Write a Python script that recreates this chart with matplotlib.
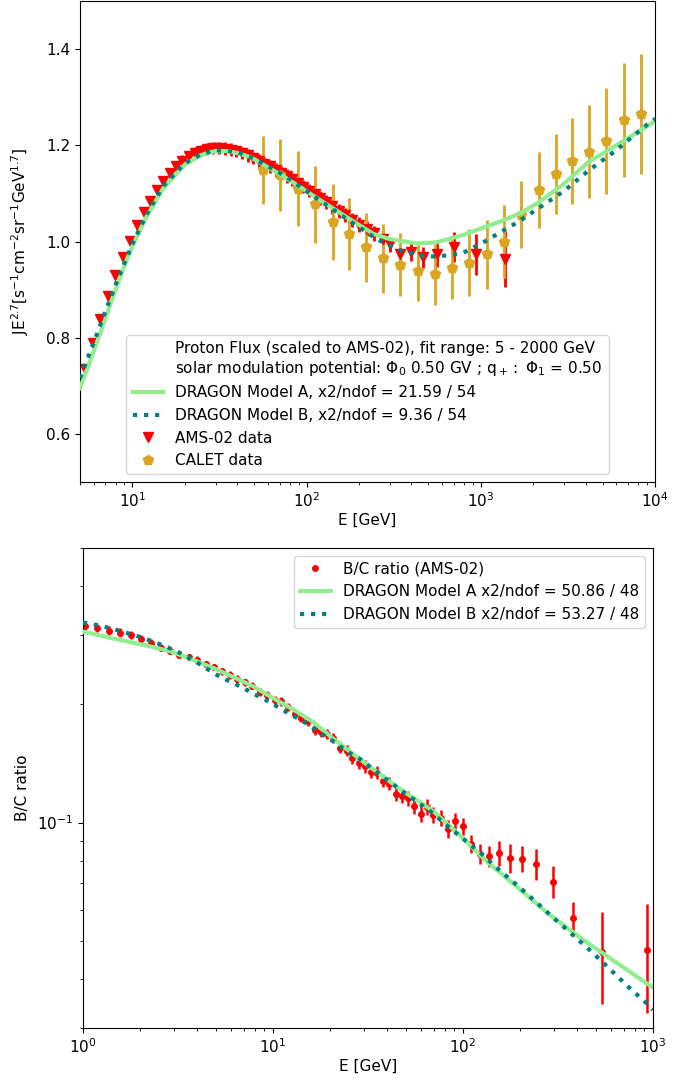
import matplotlib
matplotlib.use("Agg")
import matplotlib.pyplot as plt
from matplotlib.lines import Line2D
from matplotlib.ticker import NullFormatter

plt.rcParams['font.size'] = 11

# ---------------- Top panel data: proton flux x E^2.7 ----------------
ams_E = [5.31, 5.91, 6.55, 7.23, 7.98, 8.79, 9.65, 10.60, 11.60, 12.64, 13.79, 15.04,
         16.39, 17.83, 19.38, 21.03, 22.83, 24.78, 26.83, 29.03, 31.38, 33.87, 36.57,
         39.47, 42.57, 45.87, 49.42, 53.22, 57.27, 61.62, 66.32, 71.37, 76.77, 82.57,
         88.8, 95.6, 103.1, 111.1, 119.6, 129.1, 140.1, 152.6, 166.6, 182.6, 200.6,
         221.1, 245.1, 274.1, 300.0, 345, 398, 467, 560, 700, 935, 1371]
ams_F = [0.735, 0.789, 0.838, 0.886, 0.930, 0.967, 1.002, 1.034, 1.062, 1.085, 1.107, 1.126,
         1.143, 1.157, 1.168, 1.177, 1.184, 1.189, 1.192, 1.194, 1.194, 1.193, 1.191,
         1.188, 1.184, 1.179, 1.174, 1.168, 1.162, 1.156, 1.149, 1.143, 1.136, 1.129,
         1.121, 1.114, 1.106, 1.098, 1.090, 1.082, 1.073, 1.064, 1.055, 1.045, 1.035,
         1.027, 1.017, 1.006, 0.994, 0.973, 0.979, 0.967, 0.973, 0.988, 0.973, 0.963]
ams_err = [0.006, 0.006, 0.006, 0.006, 0.006, 0.006, 0.006, 0.007, 0.007, 0.007, 0.008, 0.008,
           0.010, 0.010, 0.011, 0.011, 0.012, 0.012, 0.013, 0.013, 0.013, 0.013, 0.013,
           0.013, 0.013, 0.013, 0.013, 0.013, 0.013, 0.014, 0.014, 0.014, 0.014, 0.014,
           0.014, 0.014, 0.014, 0.014, 0.015, 0.015, 0.015, 0.015, 0.015, 0.015, 0.015,
           0.015, 0.016, 0.016, 0.016, 0.016, 0.019, 0.022, 0.027, 0.031, 0.042, 0.058]

calet_E = [56.1, 70.1, 88.8, 111.1, 140.8, 176.1, 220.3, 275.4, 344.4, 436.5, 545.8, 682.5,
           853.4, 1081, 1352, 1693, 2144, 2685, 3357, 4198, 5248, 6651, 8318]
calet_F = [1.149, 1.139, 1.110, 1.077, 1.041, 1.015, 0.988, 0.965, 0.952, 0.938, 0.932, 0.944,
           0.956, 0.973, 1.000, 1.056, 1.108, 1.141, 1.168, 1.187, 1.209, 1.253, 1.265]
calet_err = [0.070, 0.075, 0.078, 0.081, 0.079, 0.075, 0.072, 0.072, 0.065, 0.062, 0.063, 0.064,
             0.069, 0.072, 0.075, 0.070, 0.079, 0.083, 0.089, 0.097, 0.111, 0.119, 0.124]

modelA_E = [5, 5.5, 6, 7, 8, 9, 10, 12, 15, 20, 25, 30, 35, 40, 48, 55, 74, 116, 178, 241,
            300, 430, 550, 665, 800, 1000, 1300, 1670, 2120, 3000, 4140, 6000, 8000, 10000]
modelA_F = [0.695, 0.735, 0.772, 0.840, 0.900, 0.950, 0.990, 1.050, 1.110, 1.160, 1.180, 1.188,
            1.188, 1.184, 1.175, 1.162, 1.135, 1.089, 1.046, 1.016, 1.005, 0.996, 0.998, 1.006,
            1.014, 1.027, 1.042, 1.058, 1.080, 1.120, 1.165, 1.200, 1.228, 1.250]

modelB_E = [5, 5.5, 6, 7, 8, 9, 10, 12, 15, 20, 25, 30, 40, 50, 74, 116, 178, 255, 349, 479,
            568, 778, 1054, 1408, 1607, 2120, 3000, 4140, 6000, 9000, 10000]
modelB_F = [0.716, 0.755, 0.790, 0.855, 0.910, 0.955, 0.995, 1.055, 1.115, 1.163, 1.182, 1.190,
            1.186, 1.172, 1.138, 1.088, 1.042, 1.004, 0.981, 0.969, 0.969, 0.975, 1.000, 1.027,
            1.039, 1.068, 1.105, 1.147, 1.190, 1.243, 1.255]

# ---------------- Bottom panel data: B/C ratio ----------------
bc_E = [1.02, 1.19, 1.37, 1.57, 1.78, 2.03, 2.27, 2.56, 2.87, 3.21, 3.60, 3.97, 4.42, 4.88,
        5.39, 5.91, 6.48, 7.10, 7.77, 8.51, 9.28, 10.2, 11.0, 12.0, 13.0, 14.0, 15.2, 16.6,
        17.9, 19.3, 20.8, 22.5, 24.4, 26.2, 28.4, 30.5, 32.8, 35.3, 38.1, 41.0, 44.4, 47.6,
        51.1, 55.4, 59.9, 64.4, 69.8, 76.3, 83.4, 91.1, 100, 110.6, 122.8, 136.9, 155.4,
        176.7, 205, 241, 297, 381, 537, 926]
bc_R = [0.317, 0.313, 0.308, 0.304, 0.300, 0.2934, 0.2866, 0.2789, 0.274, 0.2676, 0.264,
        0.260, 0.2534, 0.249, 0.2427, 0.2376, 0.2321, 0.2275, 0.2232, 0.2146, 0.2117, 0.2047,
        0.2035, 0.197, 0.1891, 0.185, 0.1811, 0.1717, 0.1697, 0.1684, 0.1642, 0.155, 0.1525,
        0.146, 0.1419, 0.139, 0.1346, 0.1341, 0.1279, 0.1257, 0.1185, 0.1171, 0.1155, 0.110,
        0.1052, 0.1098, 0.1048, 0.1028, 0.0963, 0.1008, 0.0979, 0.0883, 0.0834, 0.0821,
        0.0837, 0.0813, 0.081, 0.0785, 0.0708, 0.0572, 0.0468, 0.0475]
bc_err = [0.008, 0.008, 0.008, 0.008, 0.007, 0.007, 0.006, 0.006, 0.005, 0.005, 0.005,
          0.005, 0.005, 0.005, 0.005, 0.005, 0.005, 0.005, 0.005, 0.005, 0.005, 0.005,
          0.005, 0.005, 0.005, 0.005, 0.005, 0.005, 0.005, 0.005, 0.005, 0.005, 0.005,
          0.005, 0.005, 0.005, 0.005, 0.005, 0.005, 0.005, 0.005, 0.005, 0.005, 0.005,
          0.005, 0.005, 0.005, 0.005, 0.005, 0.005, 0.005, 0.0045, 0.005, 0.005,
          0.006, 0.007, 0.006, 0.007, 0.0067, 0.0057, 0.0123, 0.0147]

bcA_E = [1.0, 1.44, 2.16, 2.87, 3.66, 4.85, 6.17, 7.86, 10.0, 12.8, 16.3, 20.8, 31.2, 46.6,
         69.8, 97.6, 133, 191, 285, 427, 643, 1000]
bcA_R = [0.3063, 0.2942, 0.2823, 0.2731, 0.2614, 0.2475, 0.2348, 0.2222, 0.2075, 0.1939,
         0.1802, 0.1634, 0.1405, 0.1218, 0.1069, 0.0923, 0.0797, 0.0688, 0.0583, 0.0504,
         0.0440, 0.0380]

bcB_E = [1.0, 1.046, 1.229, 1.443, 1.698, 1.995, 2.344, 2.757, 3.24, 3.97, 4.66, 5.26, 6.06,
         6.98, 7.88, 9.08, 10.46, 11.84, 13.38, 15.4, 17.7, 20.8, 24.4, 28.7, 36.6, 46.6,
         67.2, 85.3, 96.5, 122.7, 153, 192.6, 242, 302, 381, 478, 595, 741, 930, 1000]
bcB_R = [0.323, 0.322, 0.317, 0.311, 0.304, 0.2969, 0.2888, 0.2800, 0.2703, 0.2558, 0.2437,
         0.2349, 0.2275, 0.2201, 0.2129, 0.2056, 0.1977, 0.1908, 0.1846, 0.1775, 0.1691,
         0.1610, 0.1518, 0.1452, 0.1324, 0.1213, 0.1069, 0.0969, 0.0923, 0.0840, 0.0762,
         0.0693, 0.0628, 0.0570, 0.0516, 0.0468, 0.0423, 0.0382, 0.0346, 0.0334]

W, H = 694, 1082
fig = plt.figure(figsize=(W / 100, H / 100), dpi=100)

# ---------- Top panel ----------
ax1 = fig.add_axes([80 / W, 1 - 482 / H, 575 / W, 481 / H])
ax1.errorbar(ams_E, ams_F, yerr=ams_err, fmt='v', color='red', ms=7,
             elinewidth=2, capsize=0, zorder=2)
ax1.errorbar(calet_E, calet_F, yerr=calet_err, fmt='p', color='goldenrod', ms=7.5,
             elinewidth=2, capsize=0, zorder=2)
lA, = ax1.plot(modelA_E, modelA_F, color='lightgreen', lw=3, zorder=3)
lB, = ax1.plot(modelB_E, modelB_F, color='teal', lw=3, ls=':', zorder=4)
ax1.set_xscale('log')
ax1.set_xlim(5, 1e4)
ax1.set_ylim(0.5, 1.5)
ax1.set_yticks([0.6, 0.8, 1.0, 1.2, 1.4])
ax1.set_xlabel('E [GeV]', labelpad=2)
ax1.set_ylabel(r'JE$^{2.7}$[s$^{-1}$cm$^{-2}$sr$^{-1}$GeV$^{1.7}$]')
ax1.yaxis.set_label_coords(-0.085, 0.5)
blank = Line2D([], [], linestyle='none', marker='none')
h_ams = Line2D([], [], linestyle='none', marker='v', color='red', ms=7)
h_cal = Line2D([], [], linestyle='none', marker='p', color='goldenrod', ms=7)
ax1.legend([blank, lA, lB, h_ams, h_cal],
           ['Proton Flux (scaled to AMS-02), fit range: 5 - 2000 GeV\n'
            r'solar modulation potential: $\Phi_0$ 0.50 GV ; q$_+:$ $\Phi_1$ = 0.50',
            'DRAGON Model A, x2/ndof = 21.59 / 54',
            'DRAGON Model B, x2/ndof = 9.36 / 54',
            'AMS-02 data', 'CALET data'],
           loc='lower center', fontsize=11)

# ---------- Bottom panel ----------
ax2 = fig.add_axes([83 / W, 1 - 1028 / H, 570 / W, 480 / H])
ax2.errorbar(bc_E, bc_R, yerr=bc_err, fmt='o', color='red', ms=4,
             elinewidth=1.8, capsize=0, zorder=2)
lA2, = ax2.plot(bcA_E, bcA_R, color='lightgreen', lw=3, zorder=3)
lB2, = ax2.plot(bcB_E, bcB_R, color='teal', lw=3, ls=':', zorder=4)
ax2.set_xscale('log')
ax2.set_yscale('log')
ax2.set_xlim(1, 1000)
ax2.set_ylim(0.03, 0.5)
ax2.yaxis.set_minor_formatter(NullFormatter())
ax2.set_xlabel('E [GeV]', labelpad=2)
ax2.set_ylabel('B/C ratio')
ax2.yaxis.set_label_coords(-0.093, 0.5)
h_bc = Line2D([], [], linestyle='none', marker='.', color='red', ms=8)
ax2.legend([h_bc, lA2, lB2],
           ['B/C ratio (AMS-02)', 'DRAGON Model A x2/ndof = 50.86 / 48',
            'DRAGON Model B x2/ndof = 53.27 / 48'],
           loc='upper right', fontsize=11)

fig.savefig('out.png', dpi=100)
